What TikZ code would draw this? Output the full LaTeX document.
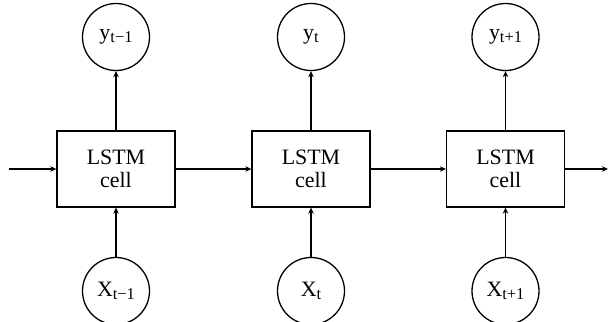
\documentclass[tikz,border=0pt]{standalone}
\usepackage{fontspec}
\setmainfont{Liberation Serif}
\usetikzlibrary{arrows.meta}
\newcommand{\lab}[2]{#1\raisebox{-0.3ex}{\fontsize{16.5}{16.5}\selectfont #2}}
\begin{document}
\begin{tikzpicture}[x=1bp,y=-1bp,
  cellbox/.style={draw,line width=1.3bp,minimum width=118bp,minimum height=76bp,inner sep=0pt,align=center,font=\fontsize{22}{23.5}\selectfont},
  circ/.style={draw,circle,line width=1.3bp,minimum size=67bp,inner sep=0pt,font=\fontsize{22}{22}\selectfont},
  conn/.style={line width=1.3bp,-{Stealth[length=6bp,width=5.5bp]}}]
\useasboundingbox (0,0) rectangle (608,321);
\foreach \i/\cx/\s in {1/116/t−1,2/311/t,3/505.5/t+1}{
  \node[cellbox] (c\i) at (\cx,169) {LSTM\\cell};
  \node[circ] (y\i) at (\cx,37) {\lab{y}{\s}};
  \node[circ] (x\i) at (\cx,291) {\lab{X}{\s}};
  \draw[conn] (c\i) -- (y\i);
  \draw[conn] (x\i) -- (c\i);
}
\coordinate (in) at (9,169);
\coordinate (out) at (608,169);
\draw[conn] (in) -- (c1);
\draw[conn] (c1) -- (c2);
\draw[conn] (c2) -- (c3);
\draw[conn] (c3) -- (out);
\end{tikzpicture}
\end{document}
